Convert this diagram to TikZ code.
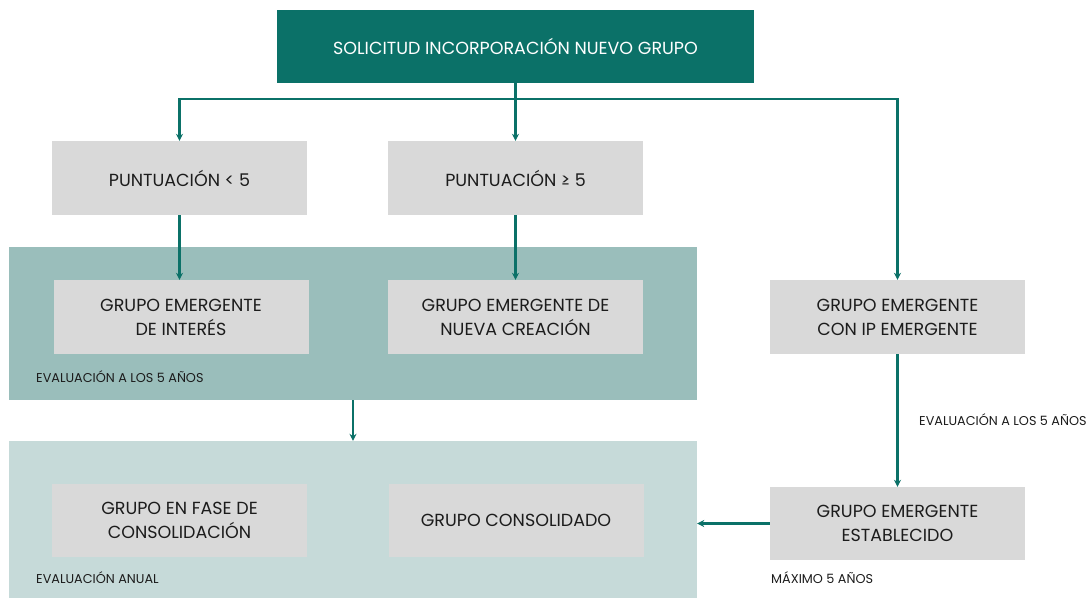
\documentclass[tikz,border=0pt]{standalone}
\usepackage{fontspec}
\setmainfont{Poppins}
\usepackage{tikz}
\usetikzlibrary{arrows.meta}

\definecolor{tealdark}{HTML}{0B7168}
\definecolor{tealmid}{HTML}{9ABEBB}
\definecolor{teallight}{HTML}{C6DAD9}
\definecolor{boxgrey}{HTML}{D9D9D9}
\definecolor{txt}{HTML}{1C1C1C}

\tikzset{
    box/.style={fill=boxgrey, text=txt, minimum width=255pt, minimum height=74pt,
        align=center, font=\fontsize{17.5}{24}\selectfont, inner sep=0pt},
    band/.style={minimum width=688pt, inner sep=0pt},
    lbl/.style={text=txt, font=\fontsize{12.8}{14}\selectfont, inner sep=0pt, anchor=west},
    arr/.style={draw=tealdark, line width=2.2pt, -{Stealth[length=7pt,width=7pt]}}
}

\begin{document}
\begin{tikzpicture}[x=1pt,y=-1pt]
    \useasboundingbox (0,0) rectangle (1086,598);
    % franjas de fondo
    \node[band, fill=tealmid, minimum height=153pt] (evalband) at (353,323.5) {};
    \node[band, fill=teallight, minimum height=157pt] (consband) at (353,519.5) {};

    \node[fill=tealdark, text=white, minimum width=477pt, minimum height=73pt,
        font=\fontsize{17.5}{20}\selectfont, inner sep=0pt] (solicitud) at (515.5,46.5)
        {SOLICITUD INCORPORACIÓN NUEVO GRUPO};

    \node[box] (puntmenor) at (179.5,178) {PUNTUACIÓN < 5};
    \node[box] (puntmayor) at (515.5,178) {PUNTUACIÓN ≥ 5};

    \node[box] (interes) at (181,317) {GRUPO EMERGENTE\\DE INTERÉS};
    \node[box] (nueva) at (515.5,317) {GRUPO EMERGENTE DE\\NUEVA CREACIÓN};
    \node[box] (conip) at (897.5,317) {GRUPO EMERGENTE\\CON IP EMERGENTE};

    \node[box, minimum height=73pt] (fase) at (179.5,520.5) {GRUPO EN FASE DE\\CONSOLIDACIÓN};
    \node[box, minimum height=73pt] (consolidado) at (516,520.5) {GRUPO CONSOLIDADO};
    \node[box, minimum height=73pt] (establecido) at (897.5,523.5) {GRUPO EMERGENTE\\ESTABLECIDO};

    \node[lbl] (evalint) at (36,377) {EVALUACIÓN A LOS 5 AÑOS};
    \node[lbl] (evalanual) at (36,578) {EVALUACIÓN ANUAL};
    \node[lbl] (evalip) at (919,420) {EVALUACIÓN A LOS 5 AÑOS};
    \node[lbl] (maximo) at (771,578) {MÁXIMO 5 AÑOS};

    % conectores
    \coordinate (reparto) at (solicitud.south |- 0,99);
    \draw[arr] (solicitud.south) -- (puntmayor.north);
    \draw[arr] (reparto) -| (puntmenor.north);
    \draw[arr] (reparto) -| (conip.north);
    \draw[arr] (puntmenor.south) -- (puntmenor.south |- interes.north);
    \draw[arr] (puntmayor.south) -- (nueva.north);
    \draw[arr] (evalband.south) -- (consband.north);
    \draw[arr] (conip.south) -- (establecido.north);
    \draw[arr] (establecido.west) -- (consband.east |- establecido.west);
\end{tikzpicture}
\end{document}
